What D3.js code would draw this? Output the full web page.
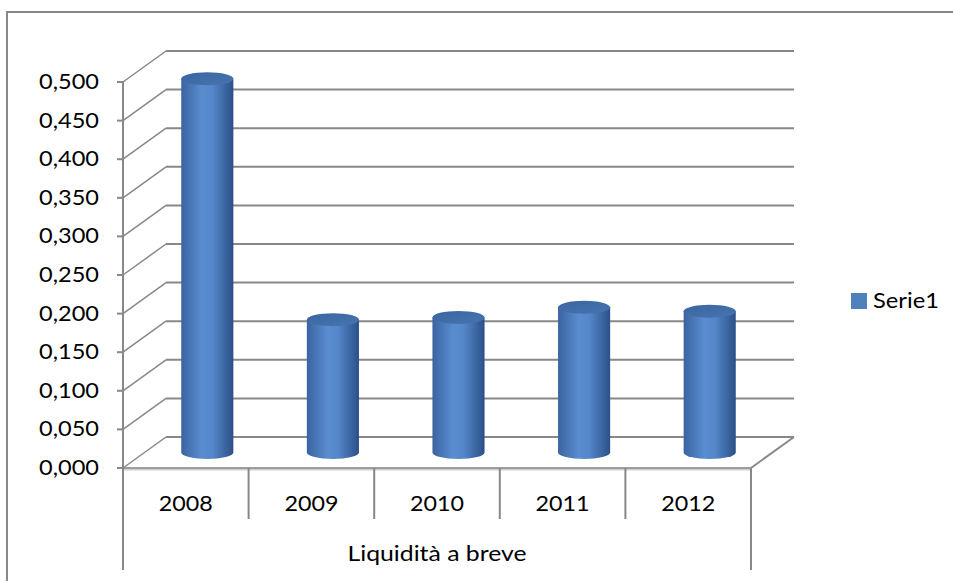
<!DOCTYPE html>
<html>
<head>
<meta charset="utf-8">
<script src="https://cdn.jsdelivr.net/npm/d3@7"></script>
<style>
  body { margin: 0; background: #fff; }
  svg text { font-family: Lato, "Noto Sans", sans-serif; fill: #000; }
</style>
</head>
<body>
<svg id="chart" width="953" height="581"></svg>
<script>
// data
const years = ["2008", "2009", "2010", "2011", "2012"];
const values = [0.484, 0.172, 0.175, 0.188, 0.183];
const yTicks = [0, 0.05, 0.1, 0.15, 0.2, 0.25, 0.3, 0.35, 0.4, 0.45, 0.5];
const seriesName = "Serie1";
const axisTitle = "Liquidità a breve";

const svg = d3.select("#chart");
const gridColor = "#888888";

// depth of the 3d box (back wall offset)
const depthX = 43, depthY = -31;

const xScale = d3.scaleBand()
	.domain(years)
	.range([123, 751])
	.padding(0);

const yScale = d3.scaleLinear()
	.domain([0, 0.5])
	.range([468, 82]);

const fmt = d => d3.format(".3f")(d).replace(".", ",");

// outer frame
svg.append("rect")
	.attr("x", 7).attr("y", 12)
	.attr("width", 980).attr("height", 620)
	.attr("fill", "none")
	.attr("stroke", gridColor)
	.attr("stroke-width", 2);

// gradients for the cylinders
const defs = svg.append("defs");
const bodyGrad = defs.append("linearGradient").attr("id", "body").attr("x1", "0").attr("x2", "1").attr("y1", "0").attr("y2", "0");
bodyGrad.append("stop").attr("offset", "0%").attr("stop-color", "#3b64a0");
bodyGrad.append("stop").attr("offset", "40%").attr("stop-color", "#5a8dd0");
bodyGrad.append("stop").attr("offset", "60%").attr("stop-color", "#5487c9");
bodyGrad.append("stop").attr("offset", "100%").attr("stop-color", "#2c5088");
const topGrad = defs.append("linearGradient").attr("id", "top").attr("x1", "0").attr("x2", "1").attr("y1", "0").attr("y2", "1");
topGrad.append("stop").attr("offset", "0%").attr("stop-color", "#3a65a0");
topGrad.append("stop").attr("offset", "100%").attr("stop-color", "#4774b0");

// back wall gridlines
const x0 = xScale.range()[0], x1 = xScale.range()[1];
svg.append("g").selectAll("line.grid")
	.data(yTicks)
	.join("line")
	.attr("class", "grid")
	.attr("x1", x0 + depthX).attr("x2", x1 + depthX)
	.attr("y1", d => yScale(d) + depthY).attr("y2", d => yScale(d) + depthY)
	.attr("stroke", gridColor).attr("stroke-width", 2);

// side wall diagonals
svg.append("g").selectAll("line.diag")
	.data(yTicks)
	.join("line")
	.attr("class", "diag")
	.attr("x1", x0).attr("x2", x0 + depthX)
	.attr("y1", d => yScale(d)).attr("y2", d => yScale(d) + depthY)
	.attr("stroke", gridColor).attr("stroke-width", 1.5);

// floor right diagonal and front edge
svg.append("line")
	.attr("x1", x1).attr("y1", yScale(0))
	.attr("x2", x1 + depthX).attr("y2", yScale(0) + depthY)
	.attr("stroke", gridColor).attr("stroke-width", 2);
svg.append("line")
	.attr("x1", x0).attr("y1", yScale(0) + 1)
	.attr("x2", x1).attr("y2", yScale(0) + 1)
	.attr("stroke", "#d0d0d0").attr("stroke-width", 3);
svg.append("line")
	.attr("x1", x0).attr("y1", yScale(0))
	.attr("x2", x1).attr("y2", yScale(0))
	.attr("stroke", gridColor).attr("stroke-width", 1.5);

// value axis
svg.append("line")
	.attr("x1", x0).attr("x2", x0)
	.attr("y1", yScale(0.5)).attr("y2", yScale(0))
	.attr("stroke", gridColor).attr("stroke-width", 2);
svg.append("g").selectAll("line.tick")
	.data(yTicks)
	.join("line")
	.attr("class", "tick")
	.attr("x1", x0 - 6).attr("x2", x0)
	.attr("y1", d => yScale(d)).attr("y2", d => yScale(d))
	.attr("stroke", gridColor).attr("stroke-width", 2);
svg.append("g").selectAll("text.ylab")
	.data(yTicks)
	.join("text")
	.attr("class", "ylab")
	.attr("x", 99)
	.attr("y", d => yScale(d) + 7)
	.attr("text-anchor", "end")
	.attr("font-size", 21)
	.attr("textLength", 60)
	.attr("lengthAdjust", "spacingAndGlyphs")
	.text(fmt);

// category axis below the floor
const bounds = years.map(d => xScale(d)).concat([x1]);
svg.append("g").selectAll("line.cat")
	.data(bounds)
	.join("line")
	.attr("class", "cat")
	.attr("x1", d => d).attr("x2", d => d)
	.attr("y1", yScale(0))
	.attr("y2", (d, i) => (i === 0 || i === bounds.length - 1) ? 570 : 519)
	.attr("stroke", gridColor).attr("stroke-width", 2);
svg.append("g").selectAll("text.xlab")
	.data(years)
	.join("text")
	.attr("class", "xlab")
	.attr("x", d => xScale(d) + xScale.bandwidth() / 2)
	.attr("y", 511)
	.attr("text-anchor", "middle")
	.attr("font-size", 21)
	.attr("textLength", 54)
	.attr("lengthAdjust", "spacingAndGlyphs")
	.text(d => d);
svg.append("text")
	.attr("x", (x0 + x1) / 2)
	.attr("y", 561)
	.attr("text-anchor", "middle")
	.attr("font-size", 21)
	.attr("textLength", 179)
	.attr("lengthAdjust", "spacingAndGlyphs")
	.text(axisTitle);

// cylinders at half depth
const cylW = xScale.bandwidth() * 0.415;
const rx = cylW / 2, ry = 6.5;
const midY = v => yScale(v) + depthY / 2;
const midX = d => xScale(d) + xScale.bandwidth() / 2 + depthX / 2;

const cyl = svg.append("g").selectAll("g.cyl")
	.data(years.map((d, i) => ({ year: d, value: values[i] })))
	.join("g")
	.attr("class", "cyl");

cyl.append("path")
	.attr("d", d => {
		const cx = midX(d.year), yt = midY(d.value), yb = midY(0);
		return `M${cx - rx},${yt} L${cx - rx},${yb} A${rx},${ry} 0 0 0 ${cx + rx},${yb} L${cx + rx},${yt} Z`;
	})
	.attr("fill", "url(#body)");

cyl.append("ellipse")
	.attr("cx", d => midX(d.year))
	.attr("cy", d => midY(d.value))
	.attr("rx", rx).attr("ry", ry)
	.attr("fill", "url(#top)");

// legend
const legend = svg.append("g");
legend.append("rect")
	.attr("x", 851).attr("y", 293)
	.attr("width", 16).attr("height", 16)
	.attr("fill", "#4f81bd");
legend.append("text")
	.attr("x", 873).attr("y", 308)
	.attr("font-size", 21)
	.attr("textLength", 66)
	.attr("lengthAdjust", "spacingAndGlyphs")
	.text(seriesName);
</script>
</body>
</html>
